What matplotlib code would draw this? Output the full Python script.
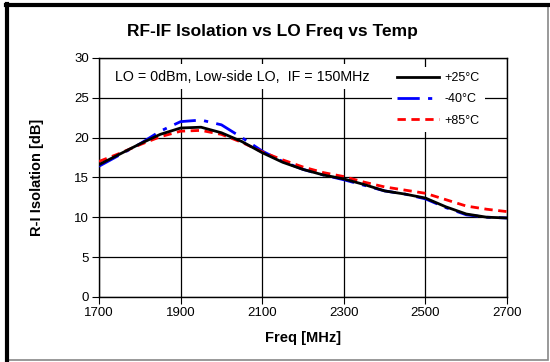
import matplotlib
matplotlib.use("Agg")
import matplotlib.pyplot as plt
from matplotlib.patches import Rectangle

plt.rcParams['font.family'] = ['Liberation Sans', 'DejaVu Sans']

freq = [1700, 1750, 1800, 1850, 1900, 1950, 2000, 2050, 2100, 2150, 2200,
        2250, 2300, 2350, 2400, 2450, 2500, 2550, 2600, 2650, 2700]
iso_p25 = [16.6, 17.9, 19.2, 20.4, 21.2, 21.3, 20.6, 19.5, 18.1, 16.9, 16.0,
           15.3, 14.8, 14.1, 13.3, 12.9, 12.4, 11.3, 10.4, 10.0, 9.9]
iso_m40 = [16.4, 17.8, 19.2, 20.8, 22.0, 22.2, 21.6, 20.0, 18.3, 17.0, 16.0,
           15.3, 14.7, 14.0, 13.3, 12.9, 12.3, 11.2, 10.3, 10.0, 9.9]
iso_p85 = [17.0, 18.0, 19.1, 20.1, 20.8, 20.9, 20.4, 19.4, 18.2, 17.2, 16.3,
           15.6, 15.1, 14.4, 13.8, 13.4, 13.0, 12.2, 11.4, 11.0, 10.7]
labels = ['+25°C', '-40°C', '+85°C']

fig = plt.figure(figsize=(5.5, 3.62), dpi=100)
ax = fig.add_axes([0.18, 0.18, 0.742, 0.66])

ax.plot(freq, iso_p25, color='black', lw=2, label=labels[0], zorder=4)
ax.plot(freq, iso_m40, color='blue', lw=2, ls=(0, (8, 3, 1.5, 3)), label=labels[1], zorder=3)
ax.plot(freq, iso_p85, color='red', lw=2, ls=(0, (3, 2)), label=labels[2], zorder=3)

ax.set_xlim(1700, 2700)
ax.set_ylim(0, 30)
ax.set_xticks(range(1700, 2701, 200))
ax.set_yticks(range(0, 31, 5))
ax.grid(True, color='black', lw=0.9)
ax.tick_params(labelsize=9.5, direction='out', length=5, color='black', pad=2)
for s in ax.spines.values():
    s.set_color('black')
    s.set_linewidth(1)

fig.text(0.495, 0.912, 'RF-IF Isolation vs LO Freq vs Temp', fontsize=12.5,
         fontweight='bold', ha='center', va='center')
ax.set_xlabel('Freq [MHz]', fontsize=10.5, fontweight='bold', va='center')
ax.set_ylabel('R-I Isolation [dB]', fontsize=10.5, fontweight='bold', va='center')
ax.xaxis.set_label_coords(0.5, -0.172)
ax.yaxis.set_label_coords(-0.152, 0.5)

ax.text(0.04, 0.922, 'LO = 0dBm, Low-side LO,  IF = 150MHz', transform=ax.transAxes,
        fontsize=10.3, va='center', ha='left',
        bbox=dict(facecolor='white', edgecolor='none', pad=4), zorder=5)

leg = ax.legend(loc='upper right', bbox_to_anchor=(0.945, 0.962), borderaxespad=0,
                frameon=True, fontsize=9, handlelength=3.4,
                labelspacing=0.75, handletextpad=0.4)
leg.get_frame().set_edgecolor('none')
leg.get_frame().set_facecolor('white')
leg.get_frame().set_alpha(1)

# outer border
fig.patches.append(Rectangle((0.011, 0.006), 0.985, 0.983, transform=fig.transFigure,
                             fill=False, edgecolor='#888888', lw=1.2))
fig.add_artist(plt.Line2D([0.012, 0.012], [0.006, 0.989], transform=fig.transFigure,
                          color='black', lw=3))
fig.add_artist(plt.Line2D([0.011, 0.996], [0.987, 0.987], transform=fig.transFigure,
                          color='black', lw=3))

fig.savefig('out.png', dpi=100)
